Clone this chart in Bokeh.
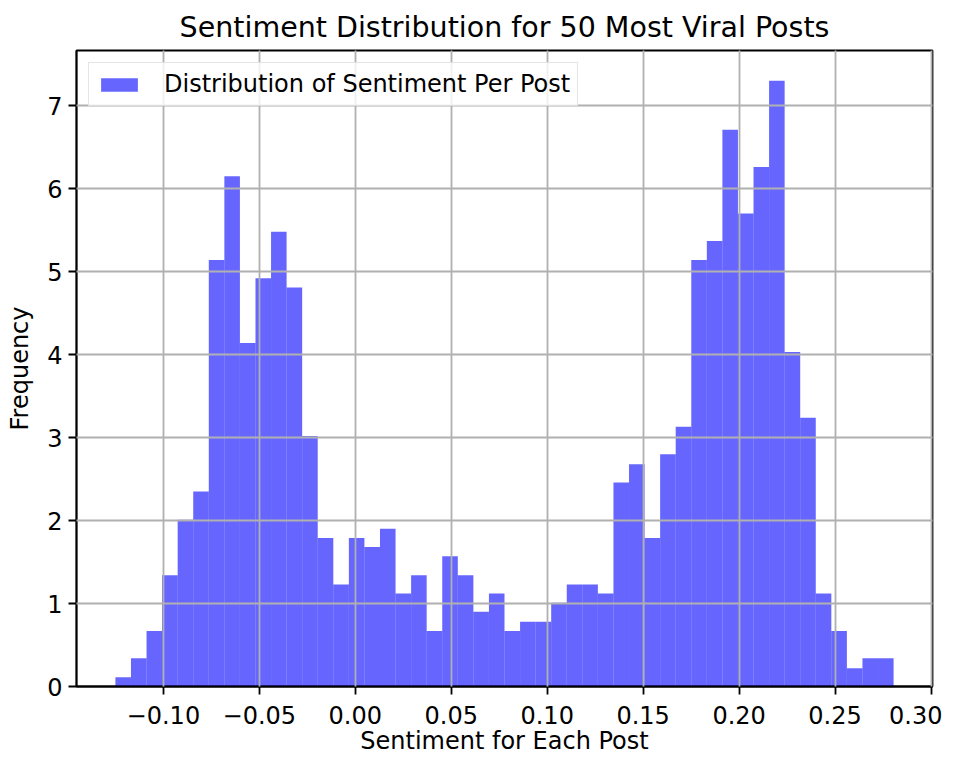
from bokeh.plotting import figure
from bokeh.models import FixedTicker, Range1d, Legend, LegendItem, ColumnDataSource
from bokeh.embed import file_html
from bokeh.resources import INLINE
import numpy as np

# ---- data ----
title_text = "Sentiment Distribution for 50 Most Viral Posts"
x_label = "Sentiment for Each Post"
y_label = "Frequency"
legend_label = "Distribution of Sentiment Per Post"

bin_start = -0.125
bin_end = 0.2805
n_bins = 50
density = [0.11, 0.34, 0.67, 1.34, 2.01, 2.35, 5.14, 6.15, 4.14, 4.92,
           5.48, 4.81, 3.02, 1.79, 1.23, 1.79, 1.68, 1.90, 1.12, 1.34,
           0.67, 1.57, 1.34, 0.90, 1.12, 0.67, 0.78, 0.78, 1.01, 1.23,
           1.23, 1.12, 2.46, 2.68, 1.79, 2.80, 3.13, 5.14, 5.37, 6.71,
           5.70, 6.26, 7.30, 4.03, 3.24, 1.12, 0.67, 0.22, 0.34, 0.34]

x_ticks = [-0.10, -0.05, 0.00, 0.05, 0.10, 0.15, 0.20, 0.25, 0.30]
x_tick_labels = ["\u22120.10", "\u22120.05", "0.00", "0.05", "0.10", "0.15", "0.20", "0.25", "0.30"]
y_ticks = [0, 1, 2, 3, 4, 5, 6, 7]
y_tick_labels = ["0", "1", "2", "3", "4", "5", "6", "7"]

edges = np.linspace(bin_start, bin_end, n_bins + 1)
src = ColumnDataSource(dict(left=edges[:-1], right=edges[1:], top=density,
                            bottom=[0] * n_bins))

span = bin_end - bin_start
x_min = bin_start - 0.05 * span
x_max = bin_end + 0.05 * span
y_max = max(density) * 1.05

FONT = "DejaVu Sans"

p = figure(width=942, height=757, output_backend="svg", toolbar_location=None,
           x_range=Range1d(x_min, x_max), y_range=Range1d(0, y_max),
           min_border_left=76, min_border_right=10, min_border_top=50,
           min_border_bottom=60)

p.title.text = title_text
p.title.align = "center"
p.title.text_font = FONT
p.title.text_font_size = "28.5px"
p.title.text_font_style = "normal"
p.title.text_color = "black"
p.title.standoff = 14

r = p.quad(left="left", right="right", top="top", bottom="bottom", source=src,
           fill_color="blue", fill_alpha=0.6, line_color=None)

p.outline_line_color = "black"
p.outline_line_width = 1.8
p.background_fill_color = "white"
p.border_fill_color = "white"

for g in (p.xgrid, p.ygrid):
    g.grid_line_color = "#b0b0b0"
    g.grid_line_width = 1.8
    g.level = "annotation"

p.xaxis.ticker = FixedTicker(ticks=x_ticks)
p.xaxis.major_label_overrides = {t: l for t, l in zip(x_ticks, x_tick_labels)}
p.yaxis.ticker = FixedTicker(ticks=y_ticks)
p.yaxis.major_label_overrides = {t: l for t, l in zip(y_ticks, y_tick_labels)}

for ax in (p.xaxis, p.yaxis):
    ax.axis_line_color = "black"
    ax.axis_line_width = 1.8
    ax.major_tick_line_color = "black"
    ax.major_tick_line_width = 1.8
    ax.major_tick_out = 8
    ax.major_tick_in = 0
    ax.minor_tick_line_color = None
    ax.major_label_text_font = FONT
    ax.major_label_text_font_size = "24px"
    ax.major_label_text_color = "black"
    ax.axis_label_text_font = FONT
    ax.axis_label_text_font_size = "24px"
    ax.axis_label_text_font_style = "normal"
    ax.axis_label_text_color = "black"

p.xaxis.major_label_standoff = 11
p.yaxis.major_label_standoff = 6
p.xaxis.axis_label = x_label
p.yaxis.axis_label = y_label
p.xaxis.axis_label_standoff = 0
p.yaxis.axis_label_standoff = 10

legend = Legend(items=[LegendItem(label=legend_label, renderers=[r])],
                location="top_left")
legend.margin = 12
legend.padding = 7
legend.label_text_font = FONT
legend.label_text_font_size = "24px"
legend.label_text_color = "black"
legend.glyph_width = 46
legend.glyph_height = 17
legend.label_standoff = 22
legend.border_line_color = "#cccccc"
legend.border_line_width = 1.5
legend.background_fill_color = "white"
legend.background_fill_alpha = 0.8
p.add_layout(legend, "center")

open("out.html", "w").write(file_html(p, INLINE))
